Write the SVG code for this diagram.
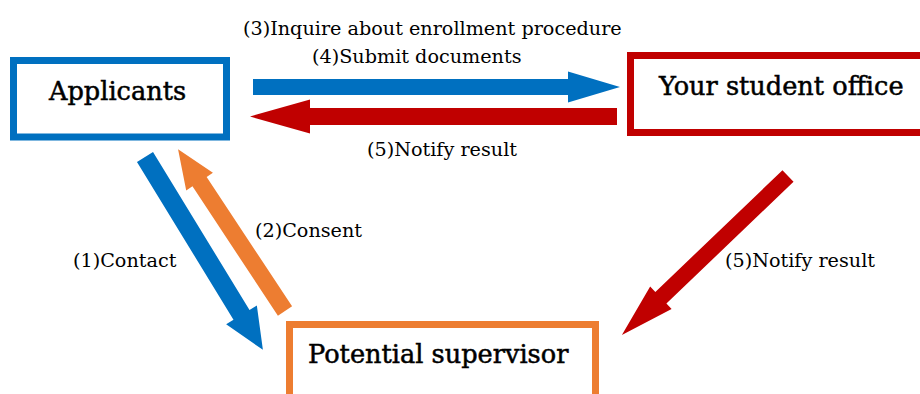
<svg xmlns="http://www.w3.org/2000/svg" width="920" height="394" viewBox="0 0 920 394">
<style>
.box{fill:#fff;stroke-width:7}
.title{font-family:"DejaVu Serif","Liberation Serif",serif;font-size:25.6px;fill:#000;stroke:#000;stroke-width:0.5}
.lbl{font-family:"DejaVu Serif","Liberation Serif",serif;font-size:19.2px;fill:#000}
.blue{fill:#0070C0}
.red{fill:#C00000}
.orange{fill:#ED7D31}
</style>
<rect width="920" height="394" fill="#fff"/>
<g id="applicants">
<rect class="box" x="13.5" y="60.5" width="213" height="76.5" stroke="#0070C0"/>
<text class="title" x="49" y="100">Applicants</text>
</g>
<g id="student-office">
<rect class="box" x="630.5" y="55.5" width="320" height="77" stroke="#C00000"/>
<text class="title" x="659" y="95">Your student office</text>
</g>
<g id="supervisor">
<rect class="box" x="289.5" y="324.5" width="306" height="90" stroke="#ED7D31"/>
<text class="title" x="308" y="363">Potential supervisor</text>
</g>
<g id="connectors">
<polygon class="blue" transform="translate(253,87)" points="0,-8 315,-8 315,-15.5 367,0 315,15.5 315,8 0,8"/>
<polygon class="red" transform="translate(617,116.5) rotate(180)" points="0,-8.5 307,-8.5 307,-17 367,0 307,17 307,8.5 0,8.5"/>
<polygon class="blue" transform="translate(145,157) rotate(58.56)" points="0,-9.4 185,-9.4 185,-18 226,0 185,18 185,9.4 0,9.4"/>
<polygon class="orange" transform="translate(285,311) rotate(-123.45)" points="0,-8.5 155,-8.5 155,-16 194,0 155,16 155,8.5 0,8.5"/>
<polygon class="red" transform="translate(788,176) rotate(136.24)" points="0,-8 176,-8 176,-15.5 230,0 176,15.5 176,8 0,8"/>
<text class="lbl" x="243" y="35">(3)Inquire about enrollment procedure</text>
<text class="lbl" x="312" y="63">(4)Submit documents</text>
<text class="lbl" x="367" y="156">(5)Notify result</text>
<text class="lbl" x="255" y="237">(2)Consent</text>
<text class="lbl" x="73" y="267">(1)Contact</text>
<text class="lbl" x="725" y="267">(5)Notify result</text>
</g>
</svg>
